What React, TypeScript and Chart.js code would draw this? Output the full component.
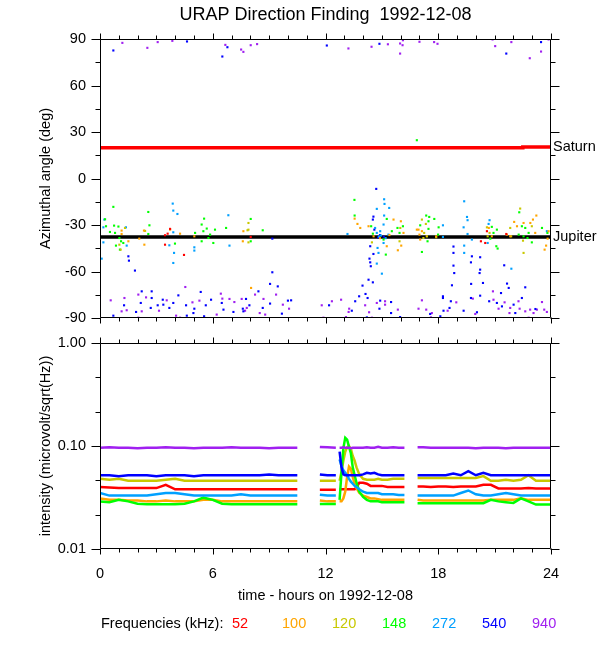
import React, { useEffect, useRef } from 'react';
import { Chart, registerables } from 'chart.js';
Chart.register(...registerables);

const FONT = "'Liberation Sans', Arial, Helvetica, sans-serif";
const TITLE = 'URAP Direction Finding  1992-12-08';
const Y_TITLE_TOP = 'Azimuthal angle (deg)';
const Y_TITLE_BOTTOM = 'intensity (microvolt/sqrt(Hz))';
const X_TITLE = 'time - hours on 1992-12-08';
const LEGEND_TITLE = 'Frequencies (kHz):';

const FREQS = ['52', '100', '120', '148', '272', '540', '940'];
const COLORS = ['#ff0000', '#ffa500', '#c8c800', '#00ff00', '#00a0ff', '#0000ff', '#a020f0'];

const HOUR_TICKS = [0, 6, 12, 18, 24];
const ANGLE_TICKS = [-90, -60, -30, 0, 30, 60, 90];
const INT_TICKS = [0.01, 0.1, 1];

// ---------- Azimuthal angle scatter: [hour, deg] ----------
const AZ_52: [number, number][] = [
  [3.46, -36.6], [3.6, -35.6], [3.73, -32.5], [3.46, -42.7], [4.47, -49.3], [8.02, -37.7],
  [20.27, -40.5], [20.5, -41.6], [20.59, -34], [21.62, -35.8],
];
const AZ_100: [number, number][] = [
  [1.15, -33.6], [1.15, -35.8], [1.51, -40.5], [2.09, -38.8], [2.34, -33.6], [2.36, -42.7],
  [3.73, -33], [4.26, -35.6], [5.02, -37.3], [7.63, -34], [7.6, -40.5], [8.04, -70.6],
  [13.55, -25.9], [13.7, -29.3], [13.85, -31.9], [14.29, -30.8], [15.62, -26.5], [16.01, -27.6],
  [16.15, -35.1], [16.03, -43.3], [15.85, -46.3], [15.26, -43.7], [14.56, -37.3], [16.95, -33],
  [17.13, -34], [17.04, -39.4], [16.86, -33], [17.0, -36.2], [17.39, -37.3], [17.89, -37.3],
  [20.69, -31.9], [20.85, -37.3], [21.65, -36.2], [21.83, -37.3], [22.04, -28], [22.19, -30.8],
  [22.54, -28.7], [22.9, -28.7], [23.04, -26.5], [23.22, -23.9], [23.16, -35.1], [23.87, -34],
  [23.74, -43.3], [23.66, -45.9], [23.82, -38.8], [14.9, -38.5], [15.4, -36.5],
];
const AZ_120: [number, number][] = [
  [1.03, -42.7], [1.1, -45.9], [1.33, -31.9], [2.4, -33.8], [7.9, -28.7], [7.9, -33],
  [7.85, -33.4], [7.9, -41.2], [14.47, -41.2], [15.94, -40.5], [15.98, -31.9], [17.13, -26.5],
  [17.25, -35.1], [17.34, -29.3], [17.21, -38.4], [17.89, -37.9], [20.59, -31.5], [20.73, -35.1],
  [20.63, -37.3], [21.83, -31.9], [22.36, -19.4], [22.51, -40.1], [22.54, -48], [22.98, -30.8],
  [21.88, -37.3],
];
const AZ_148: [number, number][] = [
  [0.27, -26.3], [0.71, -18.3], [0.32, -30.8], [0.75, -30.4], [0.98, -31], [0.53, -34.5],
  [0.8, -35.1], [1.03, -38.4], [1.12, -40.5], [1.24, -41.6], [0.85, -43.3], [1.06, -45.9],
  [2.57, -21.6], [2.63, -30.2], [2.57, -35.8], [3.99, -42], [5.06, -35.1], [5.41, -29.7],
  [5.54, -25.9], [5.5, -34], [5.68, -32.3], [5.86, -36.2], [5.77, -38.4], [6.03, -41.6],
  [6.12, -33], [6.71, -31.9], [5.41, -40.5], [8.02, -26.1], [8.66, -33.4], [8.02, -40.5],
  [13.54, -13.8], [13.55, -23.9], [14.43, -30.8], [14.52, -35.6], [15.26, -26.1], [15.21, -49.1],
  [15.83, -31.9], [15.94, -35.1], [16.12, -30.8], [17.36, -23.9], [17.48, -27.6], [17.13, -47.4],
  [17.4, -37.3], [15.09, -39.4], [15.53, -34], [17.52, -24.8], [17.79, -26.1], [17.04, -30.2],
  [17.48, -32.5], [18.02, -31.5], [17.99, -36.2], [17.43, -40.5], [20.85, -31.2], [21.12, -33],
  [20.94, -35.1], [20.77, -38.8], [21.09, -43.7], [21.16, -45.2], [22.31, -21.8], [22.45, -30.8],
  [22.63, -31.9], [22.81, -35.1], [22.54, -37.3], [22.75, -38.4], [22.98, -41.2], [23.52, -31.9],
  [23.81, -35.1], [22.28, -36.2], [16.86, 24.7],
];
const AZ_272: [number, number][] = [
  [0.18, -31.5], [0.23, -26.5], [0.18, -41.2], [0.09, -51.7], [1.42, -43.3], [1.38, -31.5],
  [3.87, -16.2], [3.9, -20.7], [4.12, -22.9], [3.9, -34.7], [3.69, -43.1], [3.94, -48],
  [3.9, -54.5], [5.02, -44.4], [5.02, -46.5], [6.83, -23.7], [6.89, -43.3], [13.17, -35.8],
  [15.12, -13.4], [15.14, -16.4], [14.73, -19.6], [15.39, -19], [15.12, -23.9], [14.64, -31.9],
  [14.73, -35.1], [14.91, -34], [15.09, -29.7], [15.35, -36.2], [15.09, -41.6], [14.77, -44.8],
  [14.73, -54.9], [15.0, -61.4], [14.82, -48], [14.85, -37.5], [15.2, -38.5], [14.95, -36.8],
  [18.25, -30.2], [18.25, -37.7], [19.38, -14.7], [19.53, -24.8], [19.56, -26.9], [19.35, -31.5],
  [19.56, -35.8], [19.79, -39.4], [19.38, -43.3], [19.38, -48], [20.73, -26.9], [20.68, -29.3],
  [20.63, -41.6], [21.89, -58.2], [23.78, -34],
];
const AZ_540: [number, number][] = [
  [0.71, 82.6], [4.63, 88.4], [6.51, 78.7], [6.78, 84.7], [12.07, 85.8], [14.87, 86.9],
  [21.62, 80.6], [23.47, 88],
  [1.51, -50.2], [1.54, -53], [1.86, -59.4], [2.22, -72.8], [2.75, -72.8], [1.28, -81.8],
  [1.92, -86.1], [2.17, -80.3], [2.7, -83.5], [3.07, -81.8], [3.34, -78.2], [3.37, -81.4],
  [3.69, -83.5], [3.9, -80.3], [4.17, -75.4], [4.58, -81.8], [4.62, -88.5], [4.97, -86.8],
  [5.02, -84], [5.36, -73.2], [5.63, -81.8], [5.91, -78.2], [6.48, -80.3], [6.57, -84.6],
  [7.1, -86.1], [7.6, -84], [0.71, -88.5], [2.75, -77.1], [5.54, -88.9],
  [14.7, -6.7], [9.17, -38.8], [14.55, -24.6], [14.52, -26.5], [14.38, -43.7], [14.34, -51.7],
  [14.38, -54.1], [14.41, -56.6], [14.55, -48.7], [9.17, -60.5], [9.05, -68], [9.46, -69.6],
  [8.43, -72.8], [14.29, -65.3], [14.52, -67], [13.97, -69.1], [14.13, -74.5], [14.24, -77.1],
  [13.79, -76], [13.58, -79.2], [7.77, -77.7], [7.95, -81.8], [8.66, -83.5], [9.05, -80.7],
  [10.0, -78.8], [10.17, -78.6], [9.68, -87.2], [12.19, -81.8], [13.4, -85.3], [14.91, -78.8],
  [15.49, -79.7], [15.49, -86.8], [14.87, -84], [14.2, -89.6], [15.97, -89.4], [7.63, -85.7],
  [14.6, -33], [14.8, -38], [14.9, -36.5], [15.1, -37.5],
  [18.81, -43.9], [18.81, -48], [19.79, -50.2], [20.23, -50.8], [19.74, -54.1], [18.81, -56.2],
  [20.23, -58.8], [20.2, -61], [18.85, -61], [21.51, -56], [18.73, -68.9], [19.75, -68],
  [20.38, -67.4], [21.66, -67.8], [21.75, -70.6], [22.63, -70.2], [18.25, -76], [18.25, -77.1],
  [18.67, -79.2], [19.74, -77.1], [20.23, -75.6], [20.71, -79.2], [21.12, -80.3], [21.34, -73.9],
  [21.39, -82.5], [22.01, -81.4], [22.45, -77.1], [18.6, -83.5], [18.28, -85.3], [19.35, -85.3],
  [20.06, -86.3], [22.1, -86.8], [17.57, -87.4], [18.11, -88.9], [23.17, -84.2],
];
const AZ_940: [number, number][] = [
  [1.19, 87.5], [2.52, 84.3], [3.07, 88], [3.85, 88.8], [6.67, 86.2], [7.51, 83.2], [7.63, 81.7],
  [8.02, 86], [8.36, 86.7], [13.22, 83.9], [14.45, 85], [15.32, 86.6], [15.97, 87.1], [16.12, 89.2],
  [16.1, 86], [15.97, 80.6], [17.0, 88.2], [17.78, 88], [17.96, 86.9], [20.89, 89.7], [21.03, 85.4],
  [21.89, 88], [22.87, 77.6], [23.47, 81.9], [23.87, 89.7],
  [0.57, -78.6], [1.3, -77.1], [1.15, -85.7], [1.42, -85], [2.04, -74.9], [2.22, -85.7],
  [2.45, -76.7], [2.04, -89.8], [3.14, -85.3], [3.55, -78.6], [4.05, -88.5], [4.54, -70],
  [4.92, -79.9], [5.29, -78.8], [6.43, -74.3], [6.51, -77.5], [6.89, -77.7], [7.15, -79.7],
  [7.54, -77.7], [7.72, -85.3], [4.26, -89.8], [6.21, -87.8],
  [7.81, -83.5], [8.25, -74.9], [8.7, -77.7], [8.5, -86.8], [9.37, -74.9], [9.73, -81.4],
  [10.06, -84], [8.79, -87.8], [11.8, -81.8], [12.34, -79.2], [12.83, -78.2], [13.26, -84],
  [13.23, -86.1], [13.09, -89.4], [14.11, -81.8], [14.32, -86.3], [14.73, -80.3], [15.17, -79.2],
  [15.17, -81.4], [15.85, -84.6], [16.95, -84], [17.36, -84.6], [17.13, -78.6], [11.89, -89.8],
  [14.47, -89.8],
  [17.66, -86.8], [18.5, -85.3], [18.96, -79.9], [19.84, -77.5], [20.91, -72.8], [20.94, -78.2],
  [21.21, -84], [21.53, -79.9], [21.83, -83.5], [21.79, -86.8], [22.27, -79.2], [22.33, -84],
  [22.63, -85.7], [22.89, -84.6], [23.07, -86.8], [23.25, -84.6], [23.52, -79.7], [23.64, -84.6],
  [23.78, -86.1], [22.81, -89.8], [17.61, -89.6], [19.97, -87.4],
];
const AZ_SERIES = [AZ_52, AZ_100, AZ_120, AZ_148, AZ_272, AZ_540, AZ_940];

const SATURN_HOURS = [0, 22.5, 22.5, 24];
const SATURN_DEG = [19.8, 19.8, 20.4, 20.4];
const JUPITER_HOURS = [0, 24];
const JUPITER_DEG = [-37.7, -37.7];

// ---------- Intensity (null = data gap) ----------
const HOURS = [
  0, 0.5, 1, 1.5, 2, 2.5, 3, 3.5, 4, 4.5, 5, 5.5, 6, 6.5, 7, 7.5, 8, 8.5, 9, 9.5, 10, 10.5,
  11.1,
  11.7, 12.1, 12.55,
  12.65,
  12.75, 12.85, 12.95, 13.05, 13.15, 13.25, 13.35, 13.45, 13.55, 13.65, 13.8, 14.0, 14.2, 14.4,
  14.6, 14.8, 15.0, 15.3, 15.6, 15.9, 16.2,
  16.5,
  16.9, 17.2, 17.6, 18.0, 18.4, 18.8, 19.2, 19.6, 20.0, 20.4, 20.8, 21.2, 21.6, 22.0, 22.4, 22.8,
  23.2, 23.6, 24,
];
const INT_52 = [
  0.040, 0.0395, 0.039, 0.039, 0.039, 0.039, 0.039, 0.042, 0.038, 0.038, 0.038, 0.038, 0.038, 0.038, 0.038, 0.038, 0.038, 0.038, 0.038, 0.038, 0.038, 0.038,
  null,
  0.0375, 0.0375, 0.0375,
  null,
  0.038, 0.038, 0.038, 0.038, 0.038, 0.038, 0.038, 0.038, 0.038, 0.040, 0.044, 0.044, 0.043, 0.041, 0.041, 0.041, 0.041, 0.040, 0.040, 0.040, 0.040,
  null,
  0.0405, 0.0405, 0.040, 0.0405, 0.0405, 0.040, 0.0405, 0.0405, 0.0405, 0.042, 0.042, 0.0387, 0.0387, 0.0387, 0.0387, 0.039, 0.0387, 0.0387, 0.0387,
];
const INT_100 = [
  0.031, 0.030, 0.030, 0.0295, 0.0295, 0.029, 0.029, 0.0295, 0.029, 0.029, 0.029, 0.030, 0.030, 0.029, 0.029, 0.029, 0.029, 0.029, 0.029, 0.029, 0.029, 0.029,
  null,
  0.0295, 0.029, 0.029,
  null,
  0.029, 0.029, 0.031, 0.036, 0.050, 0.063, 0.060, 0.050, 0.043, 0.039, 0.035, 0.033, 0.032, 0.031, 0.031, 0.0305, 0.030, 0.030, 0.030, 0.030, 0.030,
  null,
  0.030, 0.0295, 0.0295, 0.0295, 0.0295, 0.0295, 0.0295, 0.0295, 0.0295, 0.0295, 0.030, 0.030, 0.030, 0.030, 0.031, 0.030, 0.030, 0.030, 0.030,
];
const INT_120 = [
  0.048, 0.047, 0.048, 0.046, 0.046, 0.046, 0.046, 0.047, 0.048, 0.046, 0.046, 0.046, 0.046, 0.046, 0.046, 0.046, 0.046, 0.046, 0.046, 0.046, 0.046, 0.046,
  null,
  0.046, 0.046, 0.046,
  null,
  0.046, 0.056, 0.072, 0.088, 0.097, 0.100, 0.094, 0.080, 0.072, 0.062, 0.053, 0.048, 0.047, 0.047, 0.047, 0.048, 0.047, 0.047, 0.048, 0.048, 0.048,
  null,
  0.049, 0.049, 0.049, 0.049, 0.049, 0.049, 0.049, 0.049, 0.049, 0.051, 0.046, 0.046, 0.047, 0.046, 0.047, 0.052, 0.046, 0.046, 0.046,
];
const INT_148 = [
  0.029, 0.0285, 0.030, 0.029, 0.0275, 0.0272, 0.0272, 0.0272, 0.0272, 0.0275, 0.029, 0.0315, 0.030, 0.0275, 0.0272, 0.0272, 0.0272, 0.0272, 0.0272, 0.0272, 0.0272, 0.0272,
  null,
  0.0274, 0.0274, 0.0274,
  null,
  0.030, 0.055, 0.095, 0.120, 0.115, 0.098, 0.085, 0.062, 0.052, 0.044, 0.036, 0.032, 0.030, 0.029, 0.029, 0.029, 0.0285, 0.0285, 0.0285, 0.0285, 0.0285,
  null,
  0.0278, 0.0278, 0.0278, 0.0278, 0.0278, 0.0278, 0.0278, 0.0278, 0.0278, 0.0278, 0.030, 0.029, 0.0285, 0.028, 0.031, 0.029, 0.027, 0.027, 0.027,
];
const INT_272 = [
  0.035, 0.033, 0.033, 0.033, 0.033, 0.033, 0.034, 0.035, 0.035, 0.034, 0.033, 0.033, 0.033, 0.033, 0.033, 0.034, 0.033, 0.033, 0.033, 0.033, 0.033, 0.033,
  null,
  0.0337, 0.033, 0.033,
  null,
  0.074, 0.064, 0.058, 0.055, 0.052, 0.048, 0.045, 0.043, 0.041, 0.040, 0.038, 0.036, 0.035, 0.035, 0.035, 0.035, 0.034, 0.034, 0.034, 0.0335, 0.0335,
  null,
  0.033, 0.033, 0.033, 0.033, 0.033, 0.033, 0.035, 0.037, 0.034, 0.033, 0.033, 0.034, 0.035, 0.034, 0.033, 0.033, 0.033, 0.033, 0.033,
];
const INT_540 = [
  0.052, 0.052, 0.051, 0.052, 0.052, 0.052, 0.051, 0.052, 0.052, 0.052, 0.051, 0.052, 0.052, 0.052, 0.052, 0.052, 0.052, 0.052, 0.053, 0.052, 0.052, 0.052,
  null,
  0.053, 0.052, 0.052,
  null,
  0.088, 0.062, 0.053, 0.052, 0.052, 0.052, 0.052, 0.052, 0.052, 0.052, 0.052, 0.053, 0.055, 0.054, 0.055, 0.053, 0.052, 0.052, 0.052, 0.052, 0.052,
  null,
  0.052, 0.052, 0.052, 0.052, 0.052, 0.054, 0.052, 0.057, 0.052, 0.055, 0.052, 0.052, 0.052, 0.052, 0.052, 0.052, 0.052, 0.052, 0.052,
];
const INT_940 = [
  0.096, 0.097, 0.096, 0.096, 0.095, 0.096, 0.096, 0.097, 0.096, 0.096, 0.095, 0.096, 0.096, 0.096, 0.097, 0.096, 0.096, 0.096, 0.095, 0.096, 0.096, 0.096,
  null,
  0.098, 0.097, 0.096,
  null,
  0.096, 0.096, 0.097, 0.096, 0.096, 0.096, 0.095, 0.096, 0.096, 0.096, 0.096, 0.096, 0.097, 0.096, 0.096, 0.098, 0.096, 0.096, 0.097, 0.096, 0.096,
  null,
  0.097, 0.097, 0.096, 0.096, 0.096, 0.096, 0.096, 0.096, 0.095, 0.096, 0.096, 0.096, 0.095, 0.096, 0.096, 0.096, 0.096, 0.096, 0.096,
];
const INT_SERIES = [INT_52, INT_100, INT_120, INT_148, INT_272, INT_540, INT_940];

// ---------- helpers ----------
function drawFrameAndTicks(chart: any, yTicks: { v: number; major: boolean }[]) {
  const { ctx, chartArea: a, scales } = chart;
  const xs = scales.x;
  const ys = scales.y;
  ctx.save();
  ctx.strokeStyle = '#000';
  ctx.lineWidth = 1;
  const L = Math.round(a.left) + 0.5;
  const R = Math.round(a.right) - 0.5;
  const T = Math.round(a.top) + 0.5;
  const B = Math.round(a.bottom) - 0.5;
  ctx.beginPath();
  ctx.rect(L, T, R - L, B - T);
  for (let h = 0; h <= 24; h++) {
    const px = Math.round(xs.getPixelForValue(h)) + 0.5;
    const len = h % 6 === 0 ? 6 : 4;
    ctx.moveTo(px, T);
    ctx.lineTo(px, T - len);
    ctx.moveTo(px, B);
    ctx.lineTo(px, B + len);
  }
  for (const t of yTicks) {
    const py = Math.round(ys.getPixelForValue(t.v)) + 0.5;
    const len = t.major ? 9 : 5;
    ctx.moveTo(L, py);
    ctx.lineTo(L - len, py);
    ctx.moveTo(R, py);
    ctx.lineTo(R + len, py);
  }
  ctx.stroke();
  ctx.restore();
}

const TXT = 14.5;

function drawYTitle(chart: any, text: string) {
  const { ctx, chartArea: a } = chart;
  ctx.save();
  ctx.fillStyle = '#000';
  ctx.font = `${TXT}px ${FONT}`;
  ctx.textAlign = 'center';
  ctx.textBaseline = 'middle';
  ctx.translate(46, (a.top + a.bottom) / 2);
  ctx.rotate(-Math.PI / 2);
  ctx.fillText(text, 0, 0);
  ctx.restore();
}

const ANGLE_MINOR: { v: number; major: boolean }[] = [];
for (let v = -90; v <= 90; v += 15) ANGLE_MINOR.push({ v, major: v % 30 === 0 });
const INT_MINOR: { v: number; major: boolean }[] = [];
for (let k = 0; k <= 6; k++) INT_MINOR.push({ v: Math.pow(10, -2 + k / 3), major: k % 3 === 0 });

const topPlugin = {
  id: 'topDecor',
  afterDatasetsDraw(chart: any) {
    drawFrameAndTicks(chart, ANGLE_MINOR);
    const { ctx, chartArea: a, scales } = chart;
    drawYTitle(chart, Y_TITLE_TOP);
    ctx.save();
    ctx.fillStyle = '#000';
    ctx.font = `18px ${FONT}`;
    ctx.textAlign = 'center';
    ctx.textBaseline = 'middle';
    ctx.fillText(TITLE, (a.left + a.right) / 2, 15);
    ctx.font = `${TXT}px ${FONT}`;
    ctx.textAlign = 'left';
    chart.data.datasets.forEach((ds: any) => {
      if (!ds.planet) return;
      const last = ds.data[ds.data.length - 1];
      ctx.fillText(ds.label, a.right + 2, scales.y.getPixelForValue(last.y));
    });
    ctx.restore();
  },
};

const bottomPlugin = {
  id: 'bottomDecor',
  afterDatasetsDraw(chart: any) {
    drawFrameAndTicks(chart, INT_MINOR);
    const { ctx, chartArea: a } = chart;
    drawYTitle(chart, Y_TITLE_BOTTOM);
    ctx.save();
    ctx.fillStyle = '#000';
    ctx.font = `${TXT}px ${FONT}`;
    ctx.textAlign = 'center';
    ctx.textBaseline = 'middle';
    ctx.fillText(X_TITLE, (a.left + a.right) / 2, a.bottom + 47);
    ctx.textAlign = 'left';
    const ly = a.bottom + 75;
    ctx.fillText(LEGEND_TITLE, a.left + 1, ly);
    chart.data.datasets.forEach((ds: any, i: number) => {
      ctx.fillStyle = ds.borderColor;
      ctx.fillText(ds.label, a.left + 132 + 50 * i, ly);
    });
    ctx.restore();
  },
};

const tickFont = { family: FONT, size: TXT };

function fixVertical(s: any) {
  s.width = 100;
  s.paddingTop = 0;
  s.paddingBottom = 0;
}

export default function App() {
  const topRef = useRef<HTMLCanvasElement | null>(null);
  const botRef = useRef<HTMLCanvasElement | null>(null);

  useEffect(() => {
    Chart.defaults.font.family = FONT;
    Chart.defaults.color = '#000';

    const scatterSets: any[] = AZ_SERIES.map((pts, i) => ({
      type: 'scatter',
      label: FREQS[i],
      data: pts.map(([x, y]) => ({ x, y })),
      backgroundColor: COLORS[i],
      borderColor: COLORS[i],
      borderWidth: 0,
      pointStyle: 'rect',
      pointRadius: 1.5,
      order: 0,
    }));
    const planetSets: any[] = [
      {
        type: 'line',
        label: 'Saturn',
        planet: true,
        data: SATURN_HOURS.map((x, i) => ({ x, y: SATURN_DEG[i] })),
        borderColor: '#ff0000',
        borderWidth: 3.5,
        pointRadius: 0,
        fill: false,
        order: 5,
      },
      {
        type: 'line',
        label: 'Jupiter',
        planet: true,
        data: JUPITER_HOURS.map((x, i) => ({ x, y: JUPITER_DEG[i] })),
        borderColor: '#000000',
        borderWidth: 3.5,
        pointRadius: 0,
        fill: false,
        order: 5,
      },
    ];

    const top = new Chart(topRef.current as HTMLCanvasElement, {
      type: 'scatter',
      data: { datasets: [...scatterSets, ...planetSets] },
      options: {
        animation: false,
        responsive: false,
        events: [],
        layout: { padding: { top: 39, bottom: 12, left: 0, right: 49 } },
        plugins: { legend: { display: false }, title: { display: false }, tooltip: { enabled: false } },
        scales: {
          x: { type: 'linear', min: 0, max: 24, display: false },
          y: {
            type: 'linear',
            min: -90,
            max: 90,
            afterBuildTicks: (s: any) => {
              s.ticks = ANGLE_TICKS.map((v) => ({ value: v }));
            },
            ticks: { font: tickFont, color: '#000', padding: 14, autoSkip: false, callback: (v: any) => String(v) },
            grid: { display: false, drawTicks: false },
            border: { display: false },
            afterFit: fixVertical,
          },
        },
      } as any,
      plugins: [topPlugin],
    });

    const lineSets: any[] = INT_SERIES.map((vals, i) => ({
      label: FREQS[i],
      data: HOURS.map((x, j) => ({ x, y: vals[j] })),
      borderColor: COLORS[i],
      backgroundColor: COLORS[i],
      borderWidth: 2.5,
      pointRadius: 0,
      spanGaps: false,
      fill: false,
      order: 7 - i,
    }));

    const bot = new Chart(botRef.current as HTMLCanvasElement, {
      type: 'line',
      data: { datasets: lineSets },
      options: {
        animation: false,
        responsive: false,
        events: [],
        layout: { padding: { top: 13, bottom: 0, left: 0, right: 49 } },
        plugins: { legend: { display: false }, title: { display: false }, tooltip: { enabled: false } },
        scales: {
          x: {
            type: 'linear',
            min: 0,
            max: 24,
            afterBuildTicks: (s: any) => {
              s.ticks = HOUR_TICKS.map((v) => ({ value: v }));
            },
            ticks: { font: tickFont, color: '#000', padding: 16, maxRotation: 0, autoSkip: false, callback: (v: any) => String(v) },
            grid: { display: false, drawTicks: false },
            border: { display: false },
            afterFit: (s: any) => {
              s.height = 101;
              s.paddingLeft = 0;
              s.paddingRight = 0;
            },
          },
          y: {
            type: 'logarithmic',
            min: 0.01,
            max: 1,
            afterBuildTicks: (s: any) => {
              s.ticks = INT_TICKS.map((v) => ({ value: v }));
            },
            ticks: { font: tickFont, color: '#000', padding: 14, autoSkip: false, callback: (v: any) => Number(v).toFixed(2) },
            grid: { display: false, drawTicks: false },
            border: { display: false },
            afterFit: fixVertical,
          },
        },
      } as any,
      plugins: [bottomPlugin],
    });

    return () => {
      top.destroy();
      bot.destroy();
    };
  }, []);

  return (
    <div style={{ position: 'absolute', left: 0, top: 0, width: 600, height: 650, background: '#fff' }}>
      <canvas ref={topRef} width={600} height={330} style={{ position: 'absolute', left: 0, top: 0, width: 600, height: 330 }} />
      <canvas ref={botRef} width={600} height={320} style={{ position: 'absolute', left: 0, top: 330, width: 600, height: 320 }} />
    </div>
  );
}
